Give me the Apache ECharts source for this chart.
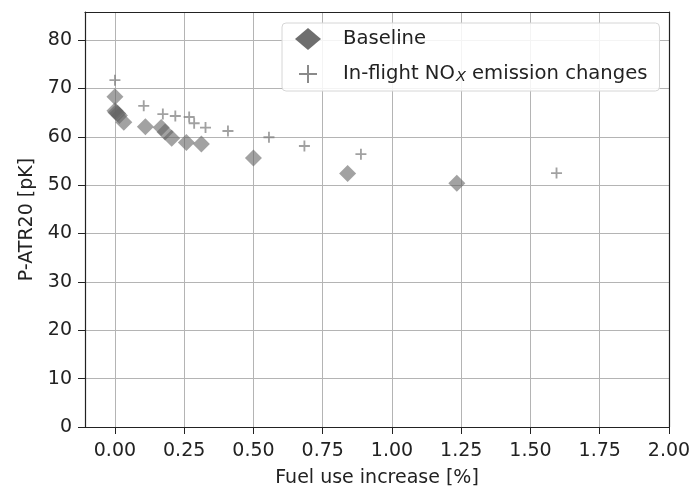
<!DOCTYPE html>
<html>
<head>
<meta charset="utf-8">
<script src="https://cdn.jsdelivr.net/npm/echarts@6/dist/echarts.min.js"></script>
<style>html,body{margin:0;padding:0;background:#fff}#c{width:691px;height:486px}</style>
</head>
<body>
<div id="c"></div>
<script>
const baselineX = [0.000, 0.000, 0.004, 0.010, 0.016, 0.032, 0.110, 0.167, 0.181, 0.205, 0.258, 0.312, 0.500, 0.840, 1.234];
const baselineY = [68.3, 65.4, 65.0, 64.8, 64.4, 63.0, 62.1, 61.9, 61.0, 59.7, 58.8, 58.5, 55.6, 52.4, 50.4];
const noxX = [0.000, 0.104, 0.173, 0.218, 0.268, 0.286, 0.327, 0.408, 0.556, 0.684, 0.888, 1.594];
const noxY = [71.7, 66.4, 64.7, 64.3, 64.1, 62.8, 61.9, 61.2, 59.9, 58.1, 56.4, 52.5];
const xTicks = [0, 0.25, 0.5, 0.75, 1.0, 1.25, 1.5, 1.75, 2.0];
const yTicks = [0, 10, 20, 30, 40, 50, 60, 70, 80];
const seriesNames = ['Baseline', 'NOx'];

const plusPath = 'path://M5,0 L7,0 L7,5 L12,5 L12,7 L7,7 L7,12 L5,12 L5,7 L0,7 L0,5 L5,5 Z';
// legend plus: 18x18 cross centred in a 26x22 box (tiny corner specks fix the box)
const plusLegend = 'path://M0,0 L0.01,0 L0,0.01 Z M26,22 L25.99,22 L26,21.99 Z M12,2 L14,2 L14,10 L22,10 L22,12 L14,12 L14,20 L12,20 L12,12 L4,12 L4,10 L12,10 Z';
const font = 'DejaVu Sans';
const fs = 19;
const lfs = 19.6;
const txt = '#222';
const frame = {show: true, onZero: false, lineStyle: {color: '#222', width: 1.2}};

const chart = echarts.init(document.getElementById('c'));
chart.setOption({
  animation: false,
  textStyle: {fontFamily: font},
  grid: {left: 85, right: 22, top: 12, bottom: 59, outerBoundsMode: 'none', containLabel: false},
  legend: {
    orient: 'vertical', left: 282, top: 23,
    backgroundColor: 'rgba(255,255,255,0.85)', borderColor: '#d6d6d6', borderWidth: 1, borderRadius: 4,
    padding: [5, 12, 6, 13], itemGap: 13, itemWidth: 26, itemHeight: 22,
    textStyle: {fontFamily: font, fontSize: lfs, color: txt,
      rich: {
        t: {fontFamily: font, fontSize: lfs, color: txt, padding: [0, 0, 0, 17]},
        n: {fontFamily: font, fontSize: lfs, color: txt},
        sub: {fontFamily: font, fontSize: 14.5, fontStyle: 'italic', color: txt, padding: [7, 0, 0, 1]}
      }},
    formatter: function (n) { return n === 'Baseline' ? '{t|Baseline}' : '{t|In-flight NO}{sub|X}{n| emission changes}'; },
    data: [
      {name: seriesNames[0], icon: 'diamond', itemStyle: {color: '#6e6e6e', opacity: 1}},
      {name: seriesNames[1], icon: plusLegend, itemStyle: {color: '#8a8a8a', opacity: 1}}
    ]
  },
  xAxis: [{
    type: 'value', min: -0.108, max: 2.0,
    name: 'Fuel use increase [%]', nameLocation: 'middle', nameGap: 42,
    nameTextStyle: {fontFamily: font, fontSize: fs, color: txt},
    axisLine: frame,
    axisTick: {show: true, length: 7, customValues: xTicks, lineStyle: {color: '#222'}},
    axisLabel: {customValues: xTicks, margin: 15, fontSize: fs, color: txt, fontFamily: font, formatter: v => v.toFixed(2)},
    splitLine: {show: true, lineStyle: {color: '#b4b4b4', width: 1}}
  }, {
    type: 'value', position: 'top', min: -0.108, max: 2.0,
    axisLine: frame, axisTick: {show: false}, axisLabel: {show: false}, splitLine: {show: false}
  }],
  yAxis: [{
    type: 'value', min: 0, max: 85.8,
    name: 'P-ATR20 [pK]', nameLocation: 'middle', nameGap: 47,
    nameTextStyle: {fontFamily: font, fontSize: fs, color: txt},
    axisLine: frame,
    axisTick: {show: true, length: 7, customValues: yTicks, lineStyle: {color: '#222'}},
    axisLabel: {customValues: yTicks, margin: 13, fontSize: fs, color: txt, fontFamily: font},
    splitLine: {show: true, lineStyle: {color: '#b4b4b4', width: 1}}
  }, {
    type: 'value', position: 'right', min: 0, max: 85.8,
    axisLine: frame, axisTick: {show: false}, axisLabel: {show: false}, splitLine: {show: false}
  }],
  series: [
    {name: seriesNames[0], type: 'scatter', symbol: 'diamond', symbolSize: 17,
     itemStyle: {color: 'rgba(100,100,100,0.75)'},
     data: baselineX.map((x, i) => [x, baselineY[i]])},
    {name: seriesNames[1], type: 'scatter', symbol: plusPath, symbolSize: 11,
     itemStyle: {color: 'rgba(125,125,125,0.9)'},
     data: noxX.map((x, i) => [x, noxY[i]])}
  ]
});
</script>
</body>
</html>
